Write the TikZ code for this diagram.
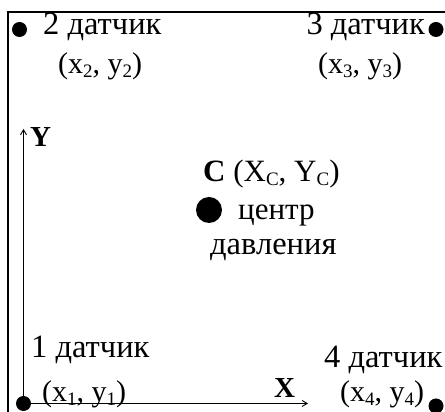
\documentclass[tikz,border=0pt]{standalone}
\usepackage{fontspec}
\setmainfont{Liberation Serif}
\usetikzlibrary{arrows.meta}
\newcommand\sbs[1]{\raisebox{-0.12em}{\fontsize{19}{19}\selectfont #1}}
\tikzset{
  lbl/.style={inner sep=0pt, anchor=base west, font=\fontsize{32.5}{36}\selectfont},
  coord/.style={inner sep=0pt, anchor=base west, font=\fontsize{30}{34}\selectfont},
  sensor/.style={circle, fill=black, inner sep=0pt, minimum size=15pt},
  axis/.style={line width=0.9pt, -{Straight Barb[length=5pt,width=6pt]}},
  axlab/.style={inner sep=0pt, anchor=base west, font=\fontsize{29}{32}\selectfont\bfseries},
}
\begin{document}
\begin{tikzpicture}[x=1pt,y=1pt]
\useasboundingbox (0,0) rectangle (445,412);
% frame
\draw[line width=2pt] (8,0) -- (8,400) -- (445,400);
% sensors
\node[sensor] (s1) at (23.5,8.5) {};
\node[sensor] (s2) at (19.5,382.5) {};
\node[sensor] (s3) at (436,382.5) {};
\node[sensor] (s4) at (436,6) {};
% axes
\coordinate (ytip) at (23.5,283);
\coordinate (xtip) at (308,8.5);
\draw[axis] (s1.center) -- (ytip);
\draw[axis] (s1.center) -- (xtip);
\node[axlab] (ylab) at (30,265) {Y};
\node[axlab] (xlab) at (274,14) {X};
% labels
\node[lbl] (l2) at (43,377) {2 датчик};
\node[coord] (c2) at (58,338) {(x\sbs{2}, y\sbs{2})};
\node[lbl, anchor=base east] (l3) at (425,377) {3 датчик};
\node[coord] (c3) at (318,338) {(x\sbs{3}, y\sbs{3})};
\node[lbl] (l1) at (31,54) {1 датчик};
\node[coord] (c1) at (42,10) {(x\sbs{1}, y\sbs{1})};
\node[lbl] (l4) at (324,44) {4 датчик};
\node[coord] (c4) at (340,10) {(x\sbs{4}, y\sbs{4})};
% centre of pressure
\node[circle, fill=black, inner sep=0pt, minimum size=26pt] (cp) at (209,202) {};
\node[coord, font=\fontsize{31}{34}\selectfont] (cl) at (203,230) {\textbf{C} (X\sbs{C}, Y\sbs{C})};
\node[coord, font=\fontsize{31}{34}\selectfont] (cc) at (238,192) {центр};
\node[lbl] (cd) at (210,157) {давления};
\end{tikzpicture}
\end{document}
